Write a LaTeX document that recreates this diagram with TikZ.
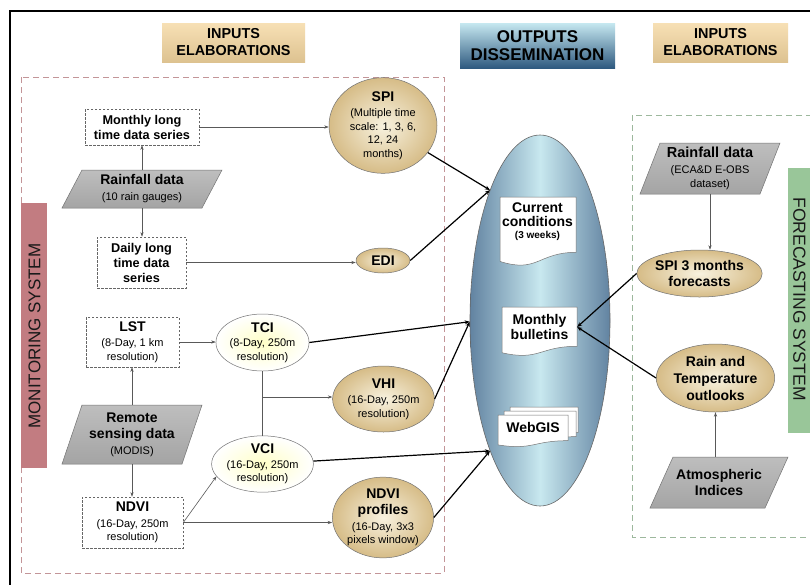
\documentclass[tikz,border=0pt]{standalone}
\usepackage{fontspec}
\setmainfont{Liberation Sans}
\usetikzlibrary{shapes.geometric,arrows.meta,calc}
\definecolor{tanL}{HTML}{F8F2DF}
\definecolor{tanD}{HTML}{D6BC87}
\definecolor{hdrT}{HTML}{F7E0B5}
\definecolor{hdrB}{HTML}{DDC290}
\definecolor{outT}{HTML}{C6E8F0}
\definecolor{outB}{HTML}{2F5A80}
\definecolor{bigE}{HTML}{6283A1}
\definecolor{bigC}{HTML}{C8E8EF}
\definecolor{monC}{HTML}{C27C81}
\definecolor{forC}{HTML}{99C699}
\definecolor{redD}{HTML}{C39598}
\definecolor{grnD}{HTML}{9DB89D}
\definecolor{parT}{HTML}{BEBEBE}
\definecolor{parM}{HTML}{D5D5D5}
\definecolor{parB}{HTML}{A4A4A4}
\newcommand{\ftl}{\fontsize{14}{16}\selectfont\bfseries}
\newcommand{\fsm}{\fontsize{11}{13.4}\selectfont}
\newcommand{\fmd}{\fontsize{12.7}{15}\selectfont\bfseries}
\newcommand{\mypara}[5]{%
  \shadedraw[parstyle] ({#1-#3/2},{#2+#4/2}) -- ({#1+#3/2-#5},{#2+#4/2}) -- ({#1+#3/2},{#2-#4/2}) -- ({#1-#3/2+#5},{#2-#4/2}) -- cycle;}
\newcommand{\docshape}[4]{%
  \filldraw[docstyle] (#1,#2) -- ({#1+#3},#2) -- ({#1+#3},{#2+0.802*#4}) .. controls ({#1+0.5*#3},{#2+0.802*#4}) and ({#1+0.5*#3},{#2+1.1075*#4}) .. (#1,{#2+0.934*#4}) -- cycle;}
\tikzset{
  parstyle/.style={top color=parT, middle color=parM, bottom color=parB, draw=black!55, line width=0.5},
  docstyle/.style={fill=white, draw=black!55, line width=0.5},
  dbox/.style={draw=black!60, dash pattern=on 2.5pt off 1.5pt, line width=0.6, fill=white, align=center, inner sep=0},
  tanell/.style={ellipse, draw=black!55, line width=0.5, inner color=tanL, outer color=tanD, align=center, inner sep=0},
  yell/.style={ellipse, draw=black!55, line width=0.5, inner color=yellow!22, outer color=white, align=center, inner sep=0},
  ptext/.style={align=center, inner sep=0},
  hdr/.style={align=center, inner sep=0, font=\fontsize{14.4}{17}\selectfont\bfseries},
  tarrow/.style={draw=black!65, line width=0.6, -{Stealth[length=4.5pt,width=3.2pt]}},
  tline/.style={draw=black!65, line width=0.6},
  karrow/.style={draw=black, line width=1.2, -{Stealth[length=5pt,width=4pt]}},
}
\begin{document}
\begin{tikzpicture}[x=1pt,y=-1pt]
\useasboundingbox (0,0) rectangle (810,584);
\clip (0,0) rectangle (810,584);
\fill[white] (0,0) rectangle (810,584);
% frame
\draw[line width=2] (10,600) -- (10,11) -- (830,11);
% group boxes
\draw[redD, dash pattern=on 6pt off 4pt, line width=0.8] (21,77) rectangle (444,573);
\draw[grnD, dash pattern=on 6pt off 4pt, line width=0.8] (632,115) rectangle (830,537);
\fill[monC] (21,203) rectangle (47,468);
\fill[forC] (788,168) rectangle (830,433);
\node[rotate=90, font=\fontsize{17}{17}\selectfont, text=black!90] (monlab) at (34.5,336) {MONITORING SYSTEM};
\node[rotate=-90, font=\fontsize{17.5}{17}\selectfont, text=black!90] (forlab) at (799.5,299) {FORECASTING SYSTEM};
% headers
\node[hdr, top color=hdrT, bottom color=hdrB, minimum width=143, minimum height=39] (h1) at (233.5,42.5) {INPUTS\\ELABORATIONS};
\node[hdr, top color=outT, bottom color=outB, minimum width=155, minimum height=45, font=\fontsize{17}{17.5}\selectfont\bfseries] (h2) at (537.5,45.5) {OUTPUTS\\DISSEMINATION};
\node[hdr, top color=hdrT, bottom color=hdrB, minimum width=135, minimum height=39] (h3) at (720.5,42.5) {INPUTS\\ELABORATIONS};
% big ellipse
\node[ellipse, minimum width=140, minimum height=371, inner sep=0, left color=bigE, right color=bigE, middle color=bigC, draw=black!60, line width=0.6] (out) at (540,320.5) {};
% documents
\docshape{500}{197}{76}{69}
\node[ptext, font=\fsm] (cur) at (537.5,222) {{\ftl Current}\\[0pt]{\ftl conditions}\\[-1pt]{\fontsize{10}{11}\selectfont\bfseries (3 weeks)}};
\docshape{502}{307}{75}{49}
\node[ptext, minimum width=75, font=\ftl] (mb) at (539.5,327) {Monthly\\[-1pt]bulletins};
\docshape{510}{407}{68}{32}
\docshape{504}{411}{72}{32}
\docshape{498}{415}{70}{32}
\node[ptext, font=\ftl] (web) at (533,427) {WebGIS};
% left column
\node[dbox, minimum width=114, minimum height=36, font=\fmd] (monthly) at (142,127) {Monthly long\\time data series};
\mypara{142}{189}{160}{38}{20}
\node[ptext, minimum width=140, minimum height=38, font=\fsm] (rain1) at (142,189) {{\ftl Rainfall data}\\[2.5pt](10 rain gauges)};
\node[dbox, minimum width=89, minimum height=51, font=\fmd] (daily) at (141.5,262.5) {Daily long\\time data\\series};
\node[tanell, minimum width=108, minimum height=85, font=\fsm] (spi) at (383,125.5) {{\ftl SPI}\\[2pt](Multiple time\\scale: 1, 3, 6,\\12, 24\\months)};
\node[tanell, minimum width=54, minimum height=25, font=\ftl] (edi) at (383,260.5) {EDI};
\node[dbox, minimum width=93, minimum height=50, font=\fsm] (lst) at (132.5,342) {{\ftl LST}\\[2pt](8-Day, 1 km\\resolution)};
\mypara{132}{434.5}{140}{59}{20}
\node[ptext, minimum width=120, minimum height=59, font=\fsm] (rs) at (132,434.5) {{\ftl Remote}\\[3pt]{\ftl sensing data}\\[2pt](MODIS)};
\node[dbox, minimum width=101, minimum height=51, font=\fsm] (ndvi) at (132.5,522.5) {{\ftl NDVI}\\[2pt](16-Day, 250m\\resolution)};
\node[yell, minimum width=87, minimum height=57, font=\fsm] (tci) at (262.5,342.5) {{\ftl TCI}\\[1pt](8-Day, 250m\\resolution)};
\node[yell, minimum width=93, minimum height=56, font=\fsm] (vci) at (262.5,464) {{\ftl VCI}\\[1pt](16-Day, 250m\\resolution)};
\node[tanell, minimum width=93, minimum height=66, font=\fsm] (vhi) at (383.5,399) {{\ftl VHI}\\[2pt](16-Day, 250m\\resolution)};
\node[tanell, minimum width=94, minimum height=79, font=\fsm] (ndvip) at (383,517.5) {{\ftl NDVI}\\[3pt]{\ftl profiles}\\[2pt](16-Day, 3x3\\pixels window)};
% right column
\mypara{710}{168.5}{140}{51}{20}
\node[ptext, minimum width=120, minimum height=51, font=\fsm] (rain2) at (710,168.5) {{\fontsize{14.5}{16}\selectfont\bfseries Rainfall data}\\[2.5pt](ECA\&D E-OBS\\dataset)};
\node[tanell, minimum width=95, minimum height=47, font=\ftl] (spi3) at (699.5,273.5) {SPI 3 months\\forecasts};
\node[tanell, minimum width=115, minimum height=68, font=\ftl] (rto) at (715.5,378) {Rain and\\[1pt]Temperature\\[1pt]outlooks};
\mypara{719}{482.5}{138}{51}{23}
\node[ptext, minimum width=115, minimum height=51, font=\ftl] (atm) at (719,482.5) {Atmospheric\\Indices};
% thin connectors
\draw[tarrow] (rain1.north) -- (monthly.south);
\draw[tarrow] (rain1.south) -- (rain1.south |- daily.north);
\draw[tarrow] (monthly.east) -- (monthly.east -| spi.west);
\draw[tarrow] (daily.east) -- (daily.east -| edi.west);
\draw[tarrow] (rs.north) -- (rs.north |- lst.south);
\draw[tarrow] (rs.south) -- (rs.south |- ndvi.north);
\draw[tarrow] (lst.east) -- (lst.east -| tci.west);
\draw[tline] (tci.south) -- (vci.north);
\coordinate (br) at (262.5,397);
\draw[tarrow] (br) -- (br -| vhi.west);
\draw[tarrow] (ndvi.east) -- (vci.195);
\draw[tarrow] (ndvi.east) -- (ndvi.east -| ndvip.west);
\draw[tarrow] (rain2.south) -- (rain2.south |- spi3.north);
\draw[tarrow] (atm.north -| rto.south) -- (rto.south);
% thick connectors
\coordinate (c1) at (out.111);
\coordinate (c2) at (out.181);
\coordinate (c3) at (out.-111);
\draw[karrow] (spi) -- (c1);
\draw[karrow] (edi.east) -- (c1);
\draw[karrow] (tci.east) -- (c2);
\draw[karrow] (vhi.east) -- (c2);
\draw[karrow] (vci) -- (c3);
\draw[karrow] (ndvip.east) -- (c3);
\draw[karrow] (spi3.west) -- (mb.east);
\draw[karrow] (rto.west) -- (mb.east);
\end{tikzpicture}
\end{document}
